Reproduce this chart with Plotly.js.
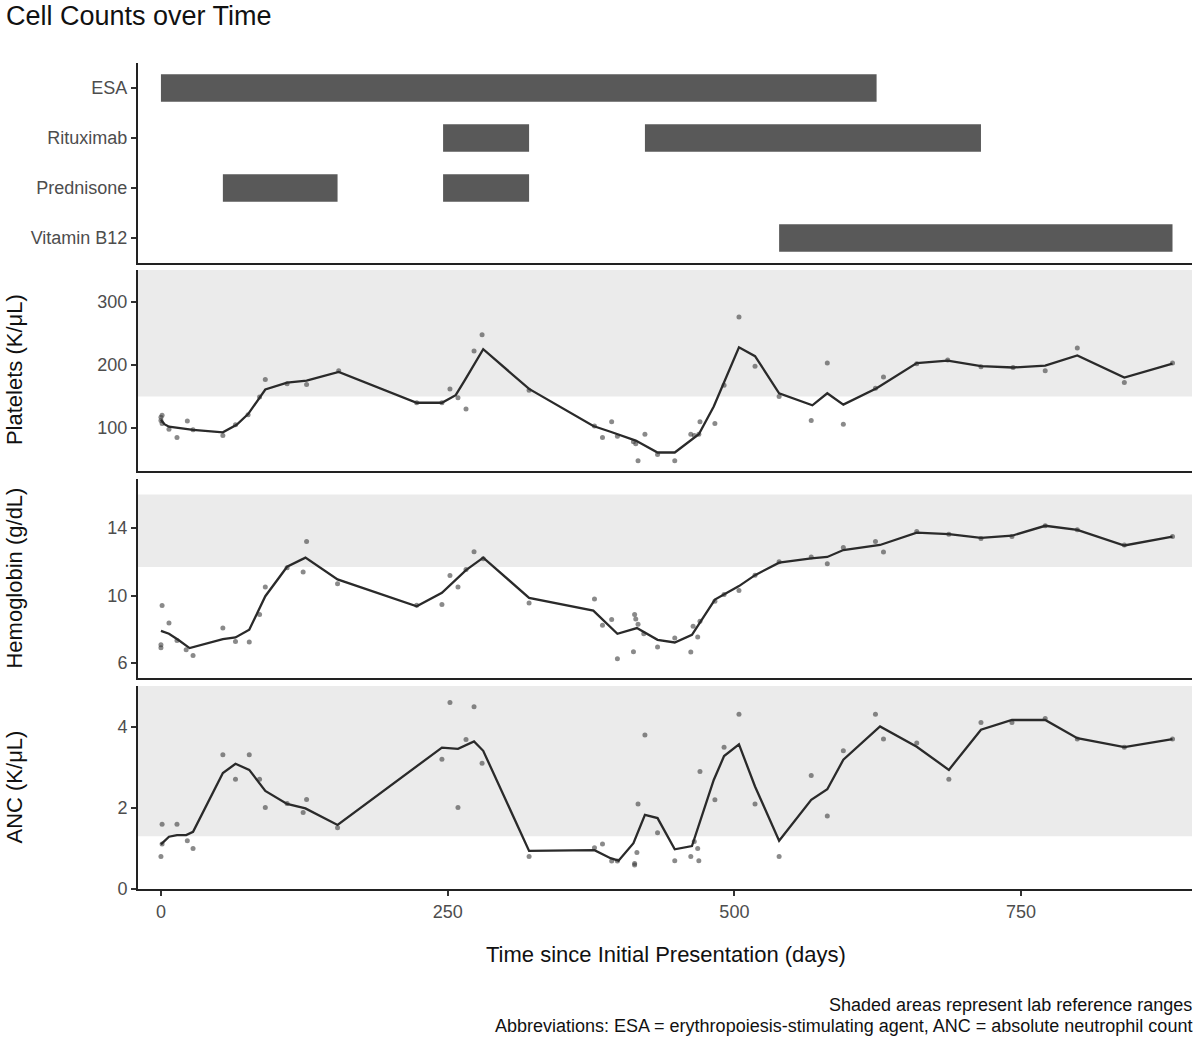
<!DOCTYPE html>
<html>
<head>
<meta charset="utf-8">
<script src="https://cdn.plot.ly/plotly-3.0.1.min.js"></script>
<style>
  body { margin: 0; background: #fff; }
  #chart { width: 1200px; height: 1040px; }
</style>
</head>
<body>
<div id="chart"></div>
<script>
// treatment periods (days)
const treatOrder = ['ESA', 'Rituximab', 'Prednisone', 'Vitamin B12'];
const treatNames = ['ESA', 'Rituximab', 'Rituximab', 'Prednisone', 'Prednisone', 'Vitamin B12'];
const treatStart = [0, 246, 422, 54, 246, 539];
const treatEnd = [624, 321, 715, 154, 321, 882];

// platelets (K/uL)
const pltDays = [0, 0, 1, 1, 7, 14, 23, 28, 54, 65, 76, 86, 91, 110, 127, 155, 223, 245, 252, 259, 266, 273, 280,
    321, 378, 385, 393, 398, 412, 414, 416, 422, 433, 448, 462, 465, 469, 470, 483, 491, 504, 518, 539, 567, 581,
    595, 623, 630, 659, 686, 715, 743, 771, 799, 840, 882];
const pltVals = [117, 112, 107, 120, 98, 85, 111, 97, 88, 105, 121, 149, 177, 170, 169, 191, 140, 140, 162, 148, 130, 222, 248,
    160, 103, 85, 110, 87, 78, 75, 48, 90, 58, 48, 90, 88, 90, 110, 107, 168, 276, 198, 150, 112, 203,
    106, 163, 181, 202, 208, 197, 196, 191, 227, 172, 203];
const pltFitDays = [0, 3, 7, 15, 28, 54, 66, 76, 91, 110, 127, 155, 223, 245, 257, 265, 281, 321, 377, 392, 414, 433, 448,
    469, 482, 504, 518, 539, 568, 581, 595, 624, 659, 686, 715, 743, 771, 799, 840, 882];
const pltFitVals = [113, 106, 102, 100, 97, 93, 105, 122, 161, 172, 175, 189, 140, 140, 152, 176, 225, 162, 103, 94, 80, 61, 61,
    90, 134, 228, 214, 155, 136, 155, 137, 163, 203, 207, 198, 196, 199, 215, 180, 202];

// hemoglobin (g/dL)
const hgbDays = [0, 0, 1, 7, 14, 22, 28, 54, 65, 77, 86, 91, 110, 124, 127, 154, 223, 245, 252, 259, 266, 273, 281,
    321, 378, 385, 393, 398, 412, 413, 414, 416, 421, 433, 448, 462, 464, 468, 470, 483, 491, 504, 518, 539, 567,
    581, 595, 623, 630, 659, 687, 715, 742, 771, 799, 840, 882];
const hgbVals = [7.07, 6.9, 9.4, 8.37, 7.33, 6.78, 6.44, 8.07, 7.27, 7.24, 8.87, 10.5, 11.65, 11.39, 13.2, 10.7, 9.42, 9.46, 11.19, 10.5, 11.55, 12.6, 12.19,
    9.56, 9.8, 8.23, 8.57, 6.24, 6.66, 8.87, 8.6, 8.3, 7.73, 6.94, 7.47, 6.64, 8.17, 7.53, 8.47, 9.66, 10.06, 10.3, 11.21, 12.0, 12.29,
    11.89, 12.85, 13.2, 12.59, 13.8, 13.64, 13.39, 13.5, 14.14, 13.9, 13.0, 13.5];
const hgbFitDays = [0, 7, 15, 25, 54, 65, 77, 91, 110, 126, 154, 223, 245, 266, 281, 321, 377, 398, 415, 433, 448, 463,
    483, 504, 518, 539, 567, 581, 595, 627, 659, 687, 715, 742, 771, 799, 840, 882];
const hgbFitVals = [7.9, 7.73, 7.37, 6.88, 7.41, 7.51, 7.97, 9.96, 11.71, 12.25, 10.96, 9.36, 10.16, 11.51, 12.25, 9.86, 9.1, 7.73, 8.07, 7.37, 7.21, 7.67,
    9.76, 10.56, 11.21, 11.95, 12.21, 12.29, 12.7, 13.0, 13.73, 13.64, 13.42, 13.55, 14.14, 13.9, 12.97, 13.5];

// absolute neutrophil count (K/uL)
const ancDays = [0, 1, 1, 14, 23, 28, 54, 65, 77, 86, 91, 110, 124, 127, 154, 245, 252, 259, 266, 273, 280,
    321, 378, 385, 393, 398, 413, 413, 415, 416, 422, 433, 448, 462, 465, 468, 469, 470, 483, 491, 504, 518, 539,
    567, 581, 595, 623, 630, 659, 687, 715, 742, 771, 799, 840, 882];
const ancVals = [0.8, 1.11, 1.6, 1.6, 1.19, 1.0, 3.31, 2.71, 3.31, 2.71, 2.01, 2.11, 1.89, 2.21, 1.51, 3.2, 4.6, 2.01, 3.69, 4.5, 3.1,
    0.8, 1.02, 1.11, 0.69, 0.69, 0.63, 0.59, 0.9, 2.1, 3.8, 1.39, 0.7, 0.8, 1.17, 1.0, 0.7, 2.9, 2.2, 3.5, 4.31, 2.1, 0.8,
    2.8, 1.8, 3.41, 4.31, 3.7, 3.6, 2.71, 4.11, 4.11, 4.21, 3.7, 3.5, 3.7];
const ancFitDays = [0, 7, 14, 22, 28, 54, 65, 77, 91, 110, 126, 154, 245, 259, 273, 281, 321, 378, 392, 399, 412, 422, 433,
    448, 463, 482, 491, 504, 518, 539, 567, 581, 595, 627, 659, 687, 715, 742, 771, 799, 840, 882];
const ancFitVals = [1.1, 1.29, 1.33, 1.33, 1.41, 2.86, 3.09, 2.94, 2.42, 2.1, 1.99, 1.58, 3.49, 3.46, 3.64, 3.41, 0.94, 0.96, 0.76, 0.7, 1.13, 1.83, 1.75,
    0.98, 1.06, 2.69, 3.28, 3.57, 2.53, 1.19, 2.2, 2.46, 3.19, 4.01, 3.51, 2.94, 3.93, 4.17, 4.17, 3.72, 3.5, 3.7];

// lab reference ranges
const refLow = [150, 11.7, 1.3];
const refHigh = [450, 16, 6];

const FONT = 'Liberation Sans, Arial, sans-serif';
const xRange = [-20, 899];
const yRanges = [[31.7, 350.8], [5.1, 16.92], [0, 5.01]];

function pointTrace(x, y, n) {
    return { type: 'scatter', mode: 'markers', x: x, y: y, xaxis: 'x' + n, yaxis: 'y' + n,
        marker: { size: 5, color: 'rgba(60,60,60,0.6)' }, hoverinfo: 'x+y' };
}
function fitTrace(x, y, n) {
    return { type: 'scatter', mode: 'lines', x: x, y: y, xaxis: 'x' + n, yaxis: 'y' + n,
        line: { color: '#2a2a2a', width: 2.3 }, hoverinfo: 'skip' };
}

function xAx(anchor, showLabels) {
    return { anchor: anchor, range: xRange, showgrid: false, zeroline: false, showline: true,
        linecolor: '#222', linewidth: 2, ticks: showLabels ? 'outside' : '', ticklen: 5, tickwidth: 2, tickcolor: '#333',
        showticklabels: showLabels, tickvals: [0, 250, 500, 750],
        tickfont: { family: FONT, size: 18, color: '#4d4d4d' } };
}
function yAx(anchor, dom, range, tickvals) {
    return { anchor: anchor, domain: dom, range: range, showgrid: false, zeroline: false, showline: true,
        linecolor: '#222', linewidth: 2, ticks: 'outside', ticklen: 5, tickwidth: 2, tickcolor: '#333',
        tickvals: tickvals, tickfont: { family: FONT, size: 18, color: '#4d4d4d' } };
}

const traces = [
    { type: 'bar', orientation: 'h', y: treatNames, base: treatStart,
      x: treatEnd.map((e, i) => e - treatStart[i]), width: 0.55, xaxis: 'x', yaxis: 'y',
      marker: { color: '#595959' }, hoverinfo: 'y' },
    pointTrace(pltDays, pltVals, 2), fitTrace(pltFitDays, pltFitVals, 2),
    pointTrace(hgbDays, hgbVals, 3), fitTrace(hgbFitDays, hgbFitVals, 3),
    pointTrace(ancDays, ancVals, 4), fitTrace(ancFitDays, ancFitVals, 4)
];

const shapes = refLow.map((lo, i) => ({
    type: 'rect', xref: 'x' + (i + 2), yref: 'y' + (i + 2), layer: 'below',
    x0: xRange[0], x1: xRange[1], y0: lo, y1: Math.min(refHigh[i], yRanges[i][1]),
    fillcolor: '#ebebeb', line: { width: 0 }
}));

function ann(text, x, y, opts) {
    return Object.assign({ text: text, x: x, y: y, xref: 'paper', yref: 'paper', showarrow: false,
        xanchor: 'center', yanchor: 'middle',
        font: { family: FONT, size: 22, color: '#111' } }, opts || {});
}

const layout = {
    width: 1200, height: 1040,
    margin: { l: 138, r: 8, t: 63, b: 151 },
    paper_bgcolor: '#fff', plot_bgcolor: '#fff',
    showlegend: false,
    title: { text: 'Cell Counts over Time', x: 0.005, xanchor: 'left', xref: 'container',
        y: 0.985, yanchor: 'middle', yref: 'container', font: { family: FONT, size: 27, color: '#111' } },
    xaxis: xAx('y', false), xaxis2: xAx('y2', false), xaxis3: xAx('y3', false), xaxis4: xAx('y4', true),
    yaxis: Object.assign(yAx('x', [0.7579, 1], [3.5, -0.5]), { type: 'category', categoryorder: 'array',
        categoryarray: treatOrder, tickvals: undefined }),
    yaxis2: yAx('x2', [0.5061, 0.7494], yRanges[0], [100, 200, 300]),
    yaxis3: yAx('x3', [0.2554, 0.4964], yRanges[1], [6, 10, 14]),
    yaxis4: yAx('x4', [0, 0.2458], yRanges[2], [0, 2, 4]),
    shapes: shapes,
    annotations: [
        ann('Platelets (K/μL)', -0.1176, 0.6283, { textangle: -90 }),
        ann('Hemoglobin (g/dL)', -0.1176, 0.3759, { textangle: -90 }),
        ann('ANC (K/μL)', -0.1176, 0.1229, { textangle: -90 }),
        ann('Time since Initial Presentation (days)', 0.501, -0.0799),
        ann('Shaded areas represent lab reference ranges', 1.0019, -0.1404,
            { xanchor: 'right', font: { family: FONT, size: 18, color: '#111' } }),
        ann('Abbreviations: ESA = erythropoiesis-stimulating agent, ANC = absolute neutrophil count', 1.0019, -0.1659,
            { xanchor: 'right', font: { family: FONT, size: 18, color: '#111' } })
    ]
};

Plotly.newPlot('chart', traces, layout, { displayModeBar: false, responsive: false });
</script>
</body>
</html>
